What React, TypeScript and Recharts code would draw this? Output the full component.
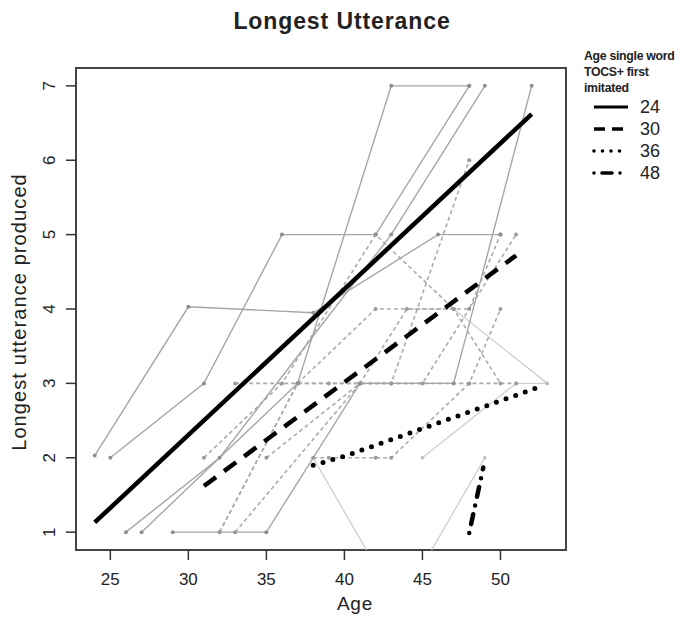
import { LineChart, Line, XAxis, YAxis, ReferenceArea } from 'recharts';

// axis ticks
const ageTicks = [25, 30, 35, 40, 45, 50];
const utteranceTicks = [1, 2, 3, 4, 5, 6, 7];

// group trend lines (age single word TOCS+ first imitated)
const trend24 = [{ x: 24, y: 1.13 }, { x: 52, y: 6.62 }];
const trend30 = [{ x: 31, y: 1.62 }, { x: 51, y: 4.72 }];
const trend36 = [{ x: 38, y: 1.9 }, { x: 40, y: 2.02 }, { x: 52.6, y: 2.96 }];
const trend48 = [{ x: 48, y: 0.99 }, { x: 48.9, y: 1.87 }];

// individual children, group 24 (solid grey)
const childA = [{ x: 24, y: 2.03 }, { x: 30, y: 4.03 }, { x: 38, y: 3.95 }, { x: 46, y: 5 }, { x: 50, y: 5 }];
const childB = [{ x: 25, y: 2 }, { x: 31, y: 3 }, { x: 36, y: 5 }, { x: 42, y: 5 }, { x: 48, y: 7 }];
const childC = [{ x: 26, y: 1 }, { x: 32, y: 2 }, { x: 43, y: 5 }, { x: 49, y: 7 }];
const childD = [{ x: 27, y: 1 }, { x: 37, y: 3 }, { x: 43, y: 7 }, { x: 48, y: 7 }];
const childE = [{ x: 29, y: 1 }, { x: 35, y: 1 }, { x: 41, y: 3 }, { x: 47, y: 3 }, { x: 52, y: 7 }];

// group 30 (dashed grey)
const childF = [{ x: 31, y: 2 }, { x: 36, y: 3 }, { x: 42, y: 5 }, { x: 47, y: 4 }];
const childG = [{ x: 32, y: 1 }, { x: 37, y: 3 }, { x: 42, y: 4 }, { x: 48, y: 4 }, { x: 50, y: 5 }];
const childH = [{ x: 32, y: 1 }, { x: 37, y: 3 }, { x: 43, y: 3 }, { x: 48, y: 6 }];
const childI = [{ x: 33, y: 1 }, { x: 41, y: 3 }, { x: 45, y: 3 }, { x: 51, y: 5 }];
const childJ = [{ x: 33, y: 3 }, { x: 39, y: 3 }, { x: 43, y: 3 }, { x: 48, y: 3 }, { x: 50, y: 4 }];
const childK = [{ x: 38, y: 2 }, { x: 39, y: 2 }, { x: 42, y: 2 }, { x: 43, y: 2 }, { x: 48, y: 3 }, { x: 51, y: 3 }];
const childL = [{ x: 35, y: 2 }, { x: 41, y: 3 }, { x: 44, y: 4 }, { x: 47, y: 4 }, { x: 50, y: 3 }];

// groups 36 / 48 (light grey)
const childM = [{ x: 38, y: 2 }, { x: 43.5, y: 0 }];
const childN = [{ x: 43.5, y: 0 }, { x: 49, y: 2 }];
const childO = [{ x: 45, y: 2 }, { x: 51, y: 3 }, { x: 53, y: 3 }];
const childP = [{ x: 47, y: 4 }, { x: 53, y: 3 }];

const solidKids = [childA, childB, childC, childD, childE];
const dashedKids = [childF, childG, childH, childI, childJ, childK, childL];
const lightKids = [childM, childN, childO, childP];

const legendLabels = ['24', '30', '36', '48'];
const legendDash = ['', '11 7', '0 8.5', '0 8 10 8'];

const font = '"Liberation Sans", Arial, sans-serif';

function RotatedTick({ x, y, payload }: any) {
  return (
    <text
      x={x}
      y={y}
      transform={`rotate(-90 ${x} ${y})`}
      textAnchor="middle"
      fontSize={17}
      fill="#222"
      fontFamily={font}
    >
      {payload.value}
    </text>
  );
}

export default function App() {
  return (
    <div
      style={{
        position: 'absolute',
        left: 0,
        top: 0,
        width: 675,
        height: 619,
        background: '#fff',
        fontFamily: font,
        color: '#222',
      }}
    >
      <div
        style={{
          position: 'absolute',
          left: 342,
          top: 21,
          transform: 'translate(-50%, -50%)',
          fontSize: 23,
          fontWeight: 'bold',
          letterSpacing: 0.9,
          whiteSpace: 'nowrap',
        }}
      >
        Longest Utterance
      </div>

      <LineChart
        width={675}
        height={619}
        margin={{ top: 68, right: 109, bottom: 19, left: 16 }}
      >
        <XAxis
          type="number"
          dataKey="x"
          domain={[22.8, 54.2]}
          ticks={ageTicks}
          allowDataOverflow
          height={50}
          axisLine={false}
          tickSize={10}
          tickMargin={13}
          tickLine={{ stroke: '#333', strokeWidth: 1.5 }}
          tick={{ fontSize: 17, fill: '#222', fontFamily: font }}
        />
        <YAxis
          type="number"
          dataKey="y"
          domain={[0.76, 7.24]}
          ticks={utteranceTicks}
          allowDataOverflow
          width={60}
          axisLine={false}
          tickSize={10}
          tickMargin={11}
          tickLine={{ stroke: '#333', strokeWidth: 1.5 }}
          tick={<RotatedTick />}
        />
        {lightKids.map((d, i) => (
          <Line
            key={`l${i}`}
            data={d}
            dataKey="y"
            stroke="#cfcfcf"
            strokeWidth={1.3}
            dot={{ r: 1.8, fill: '#bdbdbd', stroke: 'none' }}
            activeDot={false}
            isAnimationActive={false}
          />
        ))}
        {dashedKids.map((d, i) => (
          <Line
            key={`d${i}`}
            data={d}
            dataKey="y"
            stroke="#ababab"
            strokeWidth={1.6}
            strokeDasharray="4 3"
            dot={{ r: 2, fill: '#9a9a9a', stroke: 'none' }}
            activeDot={false}
            isAnimationActive={false}
          />
        ))}
        {solidKids.map((d, i) => (
          <Line
            key={`s${i}`}
            data={d}
            dataKey="y"
            stroke="#a6a6a6"
            strokeWidth={1.4}
            dot={{ r: 2, fill: '#8f8f8f', stroke: 'none' }}
            activeDot={false}
            isAnimationActive={false}
          />
        ))}
        <Line data={trend24} dataKey="y" stroke="#000" strokeWidth={4.5} dot={false} activeDot={false} isAnimationActive={false} />
        <Line data={trend30} dataKey="y" stroke="#000" strokeWidth={4.5} strokeDasharray="15 10" dot={false} activeDot={false} isAnimationActive={false} />
        <Line data={trend36} dataKey="y" stroke="#000" strokeWidth={5} strokeDasharray="0 10.2" strokeLinecap="round" dot={false} activeDot={false} isAnimationActive={false} />
        <Line data={trend48} dataKey="y" stroke="#000" strokeWidth={4.5} strokeDasharray="0 9 10 9" strokeLinecap="round" dot={false} activeDot={false} isAnimationActive={false} />
        <ReferenceArea
          x1={22.8}
          x2={54.2}
          y1={0.76}
          y2={7.24}
          fill="none"
          fillOpacity={0}
          stroke="#444"
          strokeWidth={2}
        />
      </LineChart>

      <div
        style={{
          position: 'absolute',
          left: 355,
          top: 604,
          transform: 'translate(-50%, -50%)',
          fontSize: 19,
          letterSpacing: 0.8,
        }}
      >
        Age
      </div>
      <div
        style={{
          position: 'absolute',
          left: 19,
          top: 312,
          transform: 'translate(-50%, -50%) rotate(-90deg)',
          fontSize: 20,
          letterSpacing: 1.1,
          whiteSpace: 'nowrap',
        }}
      >
        Longest utterance produced
      </div>

      <div style={{ position: 'absolute', left: 584, top: 48, width: 91 }}>
        <div style={{ fontSize: 12.3, fontWeight: 'bold', lineHeight: '16px', letterSpacing: -0.3, whiteSpace: 'nowrap' }}>
          Age single word
          <br />
          TOCS+ first
          <br />
          imitated
        </div>
        {legendLabels.map((lab, i) => (
          <div key={lab} style={{ display: 'flex', alignItems: 'center', height: 22 }}>
            <svg width={48} height={22}>
              <line
                x1={10}
                y1={11}
                x2={44}
                y2={11}
                stroke="#000"
                strokeWidth={i === 0 ? 3.2 : 3.6}
                strokeDasharray={legendDash[i] || undefined}
                strokeLinecap={i >= 2 ? 'round' : 'butt'}
              />
            </svg>
            <span style={{ fontSize: 18, marginLeft: 8 }}>{lab}</span>
          </div>
        ))}
      </div>
    </div>
  );
}
